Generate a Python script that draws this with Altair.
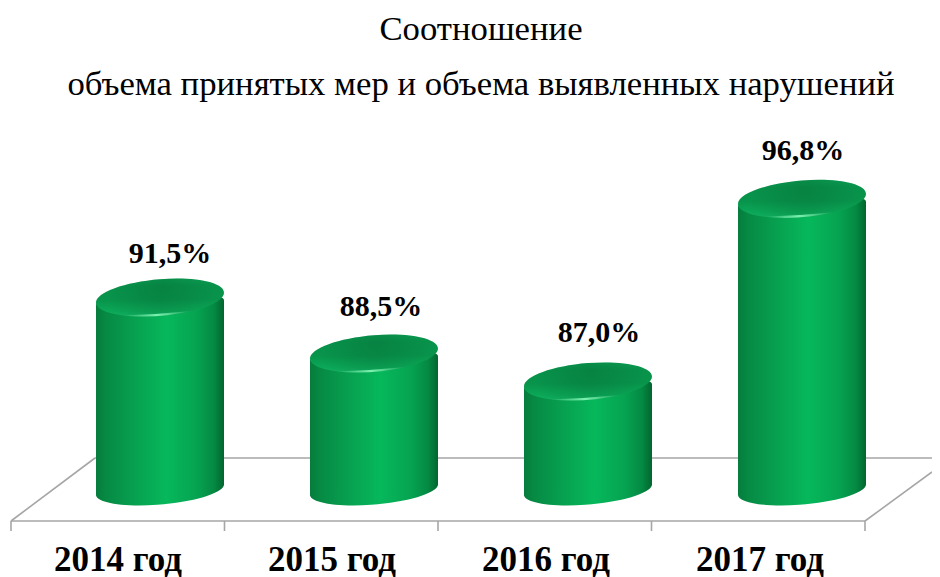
import altair as alt
import pandas as pd

years = ["2014 год", "2015 год", "2016 год", "2017 год"]
values = [91.5, 88.5, 87.0, 96.8]
labels = ["91,5%", "88,5%", "87,0%", "96,8%"]
title_lines = ["Соотношение", "объема принятых мер и объема выявленных нарушений"]
base_value = 81.2
body_bottom = 81.5

df = pd.DataFrame({"year": years, "value": values, "label": labels,
                   "base": [base_value] * 4, "bottom": [body_bottom] * 4})

SERIF = "Liberation Serif"
W, H = 924, 408
CYL = 128
SIZE = CYL ** 2
GRAY = "#a6a6a6"

x = alt.X("year:N", sort=years, title=None,
          scale=alt.Scale(domain=years, range=[45, 901], paddingInner=0, paddingOuter=0),
          axis=alt.Axis(domain=False, ticks=False, labelAngle=0, labelFont=SERIF, labelFontSize=35,
                        labelFontWeight="bold", labelColor="#000000", labelOffset=-42, labelPadding=21,
                        labelOverlap=False, grid=False))
y = alt.Y("value:Q", title=None, axis=None, scale=alt.Scale(domain=[79.51, 101.41], nice=False, zero=False))


def stops(*pairs):
    return [alt.GradientStop(offset=o, color=c) for o, c in pairs]


body_grad = alt.Gradient(gradient="linear", x1=0, x2=1, y1=0, y2=0, stops=stops(
    (0, "#067c3c"), (0.08, "#068a44"), (0.3, "#07a050"), (0.55, "#06b85b"),
    (0.78, "#06a452"), (0.92, "#048a43"), (1, "#03662f")))
cap_grad = alt.Gradient(gradient="linear", x1=0.5, x2=0.53, y1=0, y2=1, stops=stops(
    (0, "#0ba054"), (0.2, "#08934b"), (0.55, "#08944b"), (0.85, "#0ba858"), (1, "#14b464")))
cap_dark = alt.Gradient(gradient="radial", x1=0.52, y1=0.42, r1=0, x2=0.52, y2=0.42, r2=0.45, stops=stops(
    (0, "rgba(5,105,52,0.4)"), (1, "rgba(5,105,52,0)")))
cap_glow = alt.Gradient(gradient="linear", x1=0, x2=1, y1=0.5, y2=0.5, stops=stops(
    (0, "rgba(130,245,180,0)"), (0.5, "rgba(130,245,180,0.95)"), (1, "rgba(130,245,180,0)")))

CAP = "M-1,0.078 A1.003,0.286,-4.86,1,1,1,-0.078 A1.003,0.286,-4.86,1,1,-1,0.078 Z"
GLOW = "M-0.6,0.28 Q-0.05,0.335 0.5,0.21 Q-0.05,0.265 -0.6,0.28 Z"
FOOT = "M-1,-0.4 L-1,0.07 A1.003,0.235,-4.86,1,0,1,-0.07 L1,-0.4 Z"


def seg(x1, y1, x2, y2):
    return alt.Chart(df.head(1)).mark_rule(color=GRAY, strokeWidth=1.6).encode(
        x=alt.value(x1), y=alt.value(y1), x2=alt.value(x2), y2=alt.value(y2))


floor = [seg(3, 408, 857, 408), seg(87, 345, 924, 345), seg(3, 408, 87, 345), seg(857, 408, 924, 359)]
floor += [seg(t, 408, t, 418) for t in (3, 216.5, 430, 643.5, 857)]

base = alt.Chart(df)
foot = base.mark_point(shape=FOOT, filled=True, size=SIZE, color=body_grad, opacity=1).encode(
    x=x, y=alt.Y("base:Q", title=None, axis=None))
body = base.mark_bar(size=CYL, color=body_grad, cornerRadiusTopLeft=8, cornerRadiusTopRight=3).encode(
    x=x, y=y, y2="bottom:Q")
caps = [base.mark_point(shape=s, filled=True, size=SIZE, color=g, opacity=1).encode(x=x, y=y)
        for s, g in ((CAP, cap_grad), (CAP, cap_dark), (GLOW, cap_glow))]

# label, horizontal nudge, vertical nudge
nudges = [("91,5%", 10, -44), ("88,5%", 7, -47), ("87,0%", 11, -48), ("96,8%", 1, -48)]
texts = [
    base.transform_filter(alt.datum.label == k)
    .mark_text(font=SERIF, fontSize=30, fontWeight="bold", color="#000000", dx=dx, dy=dy)
    .encode(x=x, y=y, text="label:N")
    for k, dx, dy in nudges
]

chart = alt.layer(*floor, foot, body, *caps, *texts).properties(
    width=W, height=H,
    title=alt.TitleParams(text=title_lines, font=SERIF, fontSize=34.7, fontWeight="normal", color="#000000",
                          anchor="middle", lineHeight=55, dx=11, offset=10),
    autosize=alt.AutoSizeParams(type="none"),
    padding={"left": 0, "top": 105, "right": 0, "bottom": 56},
).configure_view(stroke=None)

chart.save("out.html", embed_options={"renderer": "svg", "actions": False})
